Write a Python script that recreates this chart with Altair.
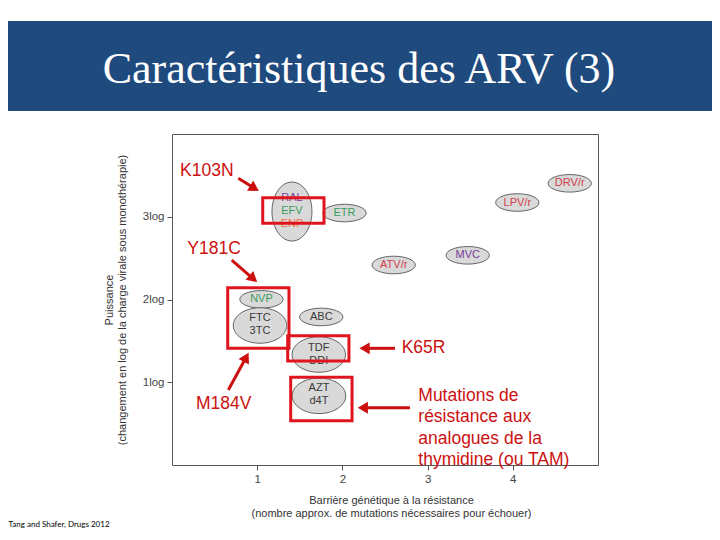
import math
import altair as alt
import pandas as pd

# ---------------- data ----------------
TITLE = "Caractéristiques des ARV (3)"
CITATION = "Tang and Shafer, Drugs 2012"

x_ticks = [1, 2, 3, 4]
y_ticks = [1, 2, 3]
x_title = ["Barrière génétique à la résistance",
           "(nombre approx. de mutations nécessaires pour échouer)"]
y_title = ["Puissance",
           "(changement en log de la charge virale sous monothérapie)"]

# ellipse groups (centre of each bubble)
small_names = ["ETR", "DRV/r", "LPV/r", "MVC", "ATV/r", "NVP", "ABC"]
small_x = [2.025, 4.668, 4.053, 3.471, 2.602, 1.050, 1.752]
small_y = [3.045, 3.404, 3.172, 2.534, 2.417, 2.002, 1.789]

large_names = ["FTC/3TC", "TDF/DDI", "AZT/d4T"]
large_x = [1.033, 1.723, 1.725]
large_y = [1.686, 1.335, 0.836]

tall_names = ["RAL/EFV/ENP"]
tall_x = [1.408]
tall_y = [3.063]

# drug labels (one entry per text line) and drug class
label_text = ["RAL", "EFV", "ENP", "ETR", "DRV/r", "LPV/r", "MVC", "ATV/r",
              "NVP", "FTC", "3TC", "ABC", "TDF", "DDI", "AZT", "d4T"]
label_x = [1.408, 1.408, 1.408, 2.025, 4.668, 4.053, 3.471, 2.602,
           1.050, 1.033, 1.033, 1.752, 1.723, 1.723, 1.725, 1.725]
label_y = [3.230, 3.069, 2.909, 3.045, 3.404, 3.172, 2.534, 2.417,
           2.002, 1.773, 1.619, 1.789, 1.410, 1.260, 0.930, 0.770]
label_class = ["INI", "INNTI", "IF", "INNTI", "IP", "IP", "CCR5", "IP",
               "INNTI", "INTI", "INTI", "INTI", "INTI", "INTI", "INTI", "INTI"]
classes = ["INTI", "INNTI", "IP", "INI", "CCR5", "IF"]
class_colors = ["#3a3a3a", "#3b9b5c", "#d2404b", "#7a3c9c", "#7a3c9c", "#f07040"]

# red highlight boxes
box_x = [1.065, 0.654, 1.358, 1.393]
box_x2 = [1.784, 1.373, 2.077, 2.113]
box_y = [3.230, 2.143, 1.563, 1.060]
box_y2 = [2.921, 1.410, 1.257, 0.535]

# red annotations
ann_text = ["K103N", "Y181C", "K65R", "M184V", "Mutations de",
            "résistance aux", "analogues de la", "thymidine (ou TAM)"]
ann_x = [0.094, 0.180, 2.696, 0.282, 2.891, 2.891, 2.891, 2.891]
ann_y = [3.553, 2.607, 1.410, 0.737, 0.834, 0.576, 0.314, 0.060]

# arrows: start -> tip
arr_x0 = [0.778, 0.701, 0.661, 2.617, 2.793]
arr_y0 = [3.465, 2.477, 0.906, 1.410, 0.692]
arr_x1 = [1.013, 0.994, 0.896, 2.207, 2.187]
arr_y1 = [3.315, 2.215, 1.350, 1.410, 0.692]

# ---------------- layout ----------------
W, H = 426, 331
XDOM, YDOM = [0, 5], [0, 4]
PX = W / (XDOM[1] - XDOM[0])
PY = H / (YDOM[1] - YDOM[0])
RED = "#cc1010"
BOX_RED = "#e0141e"
FONT = "Liberation Sans"

xs = alt.Scale(domain=XDOM, nice=False, zero=False)
ys = alt.Scale(domain=YDOM, nice=False, zero=False)
x_axis = alt.Axis(values=x_ticks, format="d", titleX=219, titlePadding=10)
y_axis = alt.Axis(values=y_ticks, labelExpr="datum.value + 'log'", titlePadding=15)


def X(f):
    return alt.X(f, type="quantitative", scale=xs, axis=x_axis, title=x_title)


def Y(f):
    return alt.Y(f, type="quantitative", scale=ys, axis=y_axis, title=y_title)


def ellipse_path(ry):
    return f"M-1,0A1,{ry},0,1,1,1,0A1,{ry},0,1,1,-1,0Z"


small_df = pd.DataFrame({"name": small_names, "x": small_x, "y": small_y})
large_df = pd.DataFrame({"name": large_names, "x": large_x, "y": large_y})
tall_df = pd.DataFrame({"name": tall_names, "x": tall_x, "y": tall_y})

ell_style = dict(filled=True, fill="#d9d9d9", stroke="#555555", strokeWidth=0.9, opacity=1)
small = alt.Chart(small_df).mark_point(
    shape=ellipse_path(0.406), size=43.3 ** 2, **ell_style
).encode(x=X("x"), y=Y("y"))
large = alt.Chart(large_df).mark_point(
    shape=ellipse_path(0.664), size=53.5 ** 2, **ell_style
).encode(x=X("x"), y=Y("y"))
tall = alt.Chart(tall_df).mark_point(
    shape=ellipse_path(1.475), size=40 ** 2, **ell_style
).encode(x=X("x"), y=Y("y"))

labels_df = pd.DataFrame({"t": label_text, "x": label_x, "y": label_y, "c": label_class})
labels = alt.Chart(labels_df).mark_text(
    font=FONT, fontSize=11, align="center", baseline="middle"
).encode(
    x=X("x"), y=Y("y"), text="t:N",
    color=alt.Color("c:N", scale=alt.Scale(domain=classes, range=class_colors), legend=None),
)

boxes_df = pd.DataFrame({"x": box_x, "x2": box_x2, "y": box_y, "y2": box_y2})
boxes = alt.Chart(boxes_df).mark_rect(
    fillOpacity=0, stroke=BOX_RED, strokeWidth=3
).encode(x=X("x"), x2="x2:Q", y=Y("y"), y2="y2:Q")

ann_df = pd.DataFrame({"t": ann_text, "x": ann_x, "y": ann_y})
ann = alt.Chart(ann_df).mark_text(
    font=FONT, fontSize=17.5, align="left", baseline="middle", color=RED
).encode(x=X("x"), y=Y("y"), text="t:N")

# arrows: shaft + head oriented along the direction (screen pixels)
angles, hx, hy = [], [], []
for x0, y0, x1, y1 in zip(arr_x0, arr_y0, arr_x1, arr_y1):
    dx = (x1 - x0) * PX
    dy = -(y1 - y0) * PY
    L = math.hypot(dx, dy)
    angles.append(math.degrees(math.atan2(dx, -dy)) % 360)
    back = 4.5
    hx.append(x1 - (dx / L) * back / PX)
    hy.append(y1 + (dy / L) * back / PY)

arr_df = pd.DataFrame({"x0": arr_x0, "y0": arr_y0, "x1": hx, "y1": hy, "a": angles})
shafts = alt.Chart(arr_df).mark_rule(color=RED, strokeWidth=3).encode(
    x=X("x0"), y=Y("y0"), x2="x1:Q", y2="y1:Q")
heads = alt.Chart(arr_df).mark_point(
    shape="triangle-up", filled=True, color=RED, size=140, opacity=1
).encode(x=X("x1"), y=Y("y1"), angle=alt.Angle("a:Q", scale=None))

# slide decoration: banner, title, citation
title_df = pd.DataFrame({"t": [TITLE]})
banner = alt.Chart(title_df).mark_rect(color="#1f4a7e").encode(
    x=alt.value(-172), x2=alt.value(548), y=alt.value(-113), y2=alt.value(-23))
title = alt.Chart(title_df).mark_text(
    font="Liberation Serif", fontSize=44, color="white", align="center",
    baseline="alphabetic"
).encode(x=alt.value(187), y=alt.value(-51), text="t:N")
cite = alt.Chart(pd.DataFrame({"t": [CITATION]})).mark_text(
    font="Lato", fontSize=8, color="black", align="left", baseline="middle"
).encode(x=alt.value(-163.5), y=alt.value(391), text="t:N")

chart = alt.layer(
    small, large, tall, labels, boxes, shafts, heads, ann, banner, title, cite
).properties(
    width=W, height=H,
    autosize=alt.AutoSizeParams(type="none"),
    padding={"left": 164, "top": 126, "right": 114, "bottom": 67},
).configure_view(
    stroke="#555555", strokeWidth=1
).configure_axis(
    domain=False, grid=False, ticks=True, tickColor="#555555", tickSize=5,
    labelColor="#444444", labelFont=FONT, labelFontSize=11.5, labelPadding=3,
    titleFont=FONT, titleFontSize=11, titleFontWeight="normal", titleColor="#333333",
    titleLineHeight=13,
)

chart.save("out.html", embed_options={"renderer": "svg", "actions": False})
